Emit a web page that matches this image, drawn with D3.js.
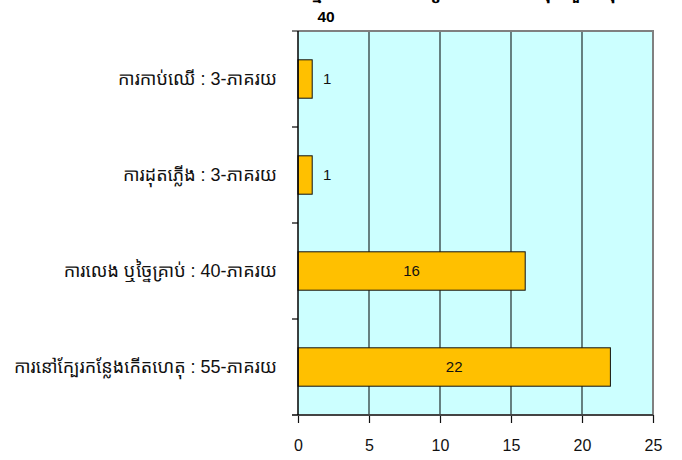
<!DOCTYPE html>
<html>
<head>
<meta charset="utf-8">
<script src="https://cdn.jsdelivr.net/npm/d3@7"></script>
<style>
  body { margin: 0; background: #fff; }
  text { font-family: Arial, "Liberation Sans", "Noto Sans Khmer", "Khmer OS", "Khmer OS System", sans-serif; }
</style>
</head>
<body>
<svg width="682" height="460"></svg>
<script>
var categories = [
  'ការកាប់ឈើ : 3-ភាគរយ',
  'ការដុតភ្លើង : 3-ភាគរយ',
  'ការលេង ឬច្នៃគ្រាប់ : 40-ភាគរយ',
  'ការនៅក្បែរកន្លែងកើតហេតុ : 55-ភាគរយ'
];
var values = [1, 1, 16, 22];
var xTicks = [0, 5, 10, 15, 20, 25];
var titleLine = 'សកម្មភាពរបស់ជនរងគ្រោះពេលកើតហេតុ ចំនួនសរុប';
var totalLabel = '40';

var svg = d3.select('svg');

var plotLeft = 298, plotTop = 31, plotRight = 653, plotBottom = 415;

var x = d3.scaleLinear().domain([0, 25]).range([plotLeft, plotRight]);
var y = d3.scaleBand().domain(categories).range([plotTop, plotBottom])
  .paddingInner(0.6).paddingOuter(0.3);
var step = y.step();

// title (top line is cut off by the page edge)
svg.append('text')
  .attr('x', 455).attr('y', -1)
  .attr('text-anchor', 'middle')
  .attr('font-size', 17).attr('font-weight', 'bold')
  .text(titleLine);
svg.append('text')
  .attr('x', 326).attr('y', 22)
  .attr('text-anchor', 'middle')
  .attr('font-size', 15.5).attr('font-weight', 'bold')
  .text(totalLabel);

// plot background
svg.append('rect')
  .attr('x', plotLeft).attr('y', plotTop)
  .attr('width', plotRight - plotLeft).attr('height', plotBottom - plotTop)
  .attr('fill', '#ccffff');

// grid lines
svg.append('g')
  .selectAll('line')
  .data(xTicks.slice(1, -1))
  .enter()
  .append('line')
  .attr('x1', function(d) { return x(d); })
  .attr('x2', function(d) { return x(d); })
  .attr('y1', plotTop).attr('y2', plotBottom)
  .attr('stroke', '#2f3d3d')
  .attr('stroke-width', 1.3);

// top + right border
svg.append('path')
  .attr('d', 'M' + (plotLeft - 6) + ',' + plotTop + 'H' + plotRight + 'V' + plotBottom)
  .attr('fill', 'none')
  .attr('stroke', '#808080')
  .attr('stroke-width', 2);

// bars
svg.append('g')
  .selectAll('rect')
  .data(values)
  .enter()
  .append('rect')
  .attr('x', x(0))
  .attr('y', function(d, i) { return y(categories[i]); })
  .attr('width', function(d) { return x(d) - x(0); })
  .attr('height', y.bandwidth())
  .attr('fill', '#ffc000')
  .attr('stroke', '#111')
  .attr('stroke-width', 1);

// value labels
svg.append('g')
  .selectAll('text')
  .data(values)
  .enter()
  .append('text')
  .attr('x', function(d) { return d < 5 ? x(d) + 15 : (x(0) + x(d)) / 2; })
  .attr('y', function(d, i) { return y(categories[i]) + y.bandwidth() / 2; })
  .attr('dy', '0.36em')
  .attr('text-anchor', 'middle')
  .attr('font-size', 15)
  .attr('fill', '#111')
  .text(function(d) { return d; });

// bottom axis
var xAxis = d3.axisBottom(x).tickValues(xTicks).tickSizeInner(8).tickSizeOuter(0).tickPadding(17);
var gx = svg.append('g')
  .attr('transform', 'translate(0,' + plotBottom + ')')
  .call(xAxis);
gx.select('.domain').remove();
gx.append('line')
  .attr('x1', plotLeft - 6).attr('x2', plotRight)
  .attr('stroke', '#444').attr('stroke-width', 2);
gx.selectAll('.tick line').attr('stroke', '#111').attr('stroke-width', 1.2);
gx.selectAll('.tick text')
  .attr('font-size', 16)
  .attr('font-family', 'Arial, "Liberation Sans", sans-serif')
  .attr('fill', '#111');

// left axis with ticks on category boundaries
var bounds = d3.range(categories.length + 1).map(function(i) { return plotTop + i * step; });
svg.append('line')
  .attr('x1', plotLeft).attr('x2', plotLeft)
  .attr('y1', plotTop).attr('y2', plotBottom)
  .attr('stroke', '#000').attr('stroke-width', 1.5);
svg.append('g')
  .selectAll('line')
  .data(bounds.slice(1, -1))
  .enter()
  .append('line')
  .attr('x1', plotLeft - 6).attr('x2', plotLeft)
  .attr('y1', function(d) { return d; })
  .attr('y2', function(d) { return d; })
  .attr('stroke', '#000').attr('stroke-width', 1.2);

// category labels
svg.append('g')
  .selectAll('text')
  .data(categories)
  .enter()
  .append('text')
  .attr('x', 277)
  .attr('y', function(d) { return y(d) + y.bandwidth() / 2; })
  .attr('dy', '0.36em')
  .attr('text-anchor', 'end')
  .attr('font-size', 18)
  .attr('fill', '#111')
  .text(function(d) { return d; });
</script>
</body>
</html>
